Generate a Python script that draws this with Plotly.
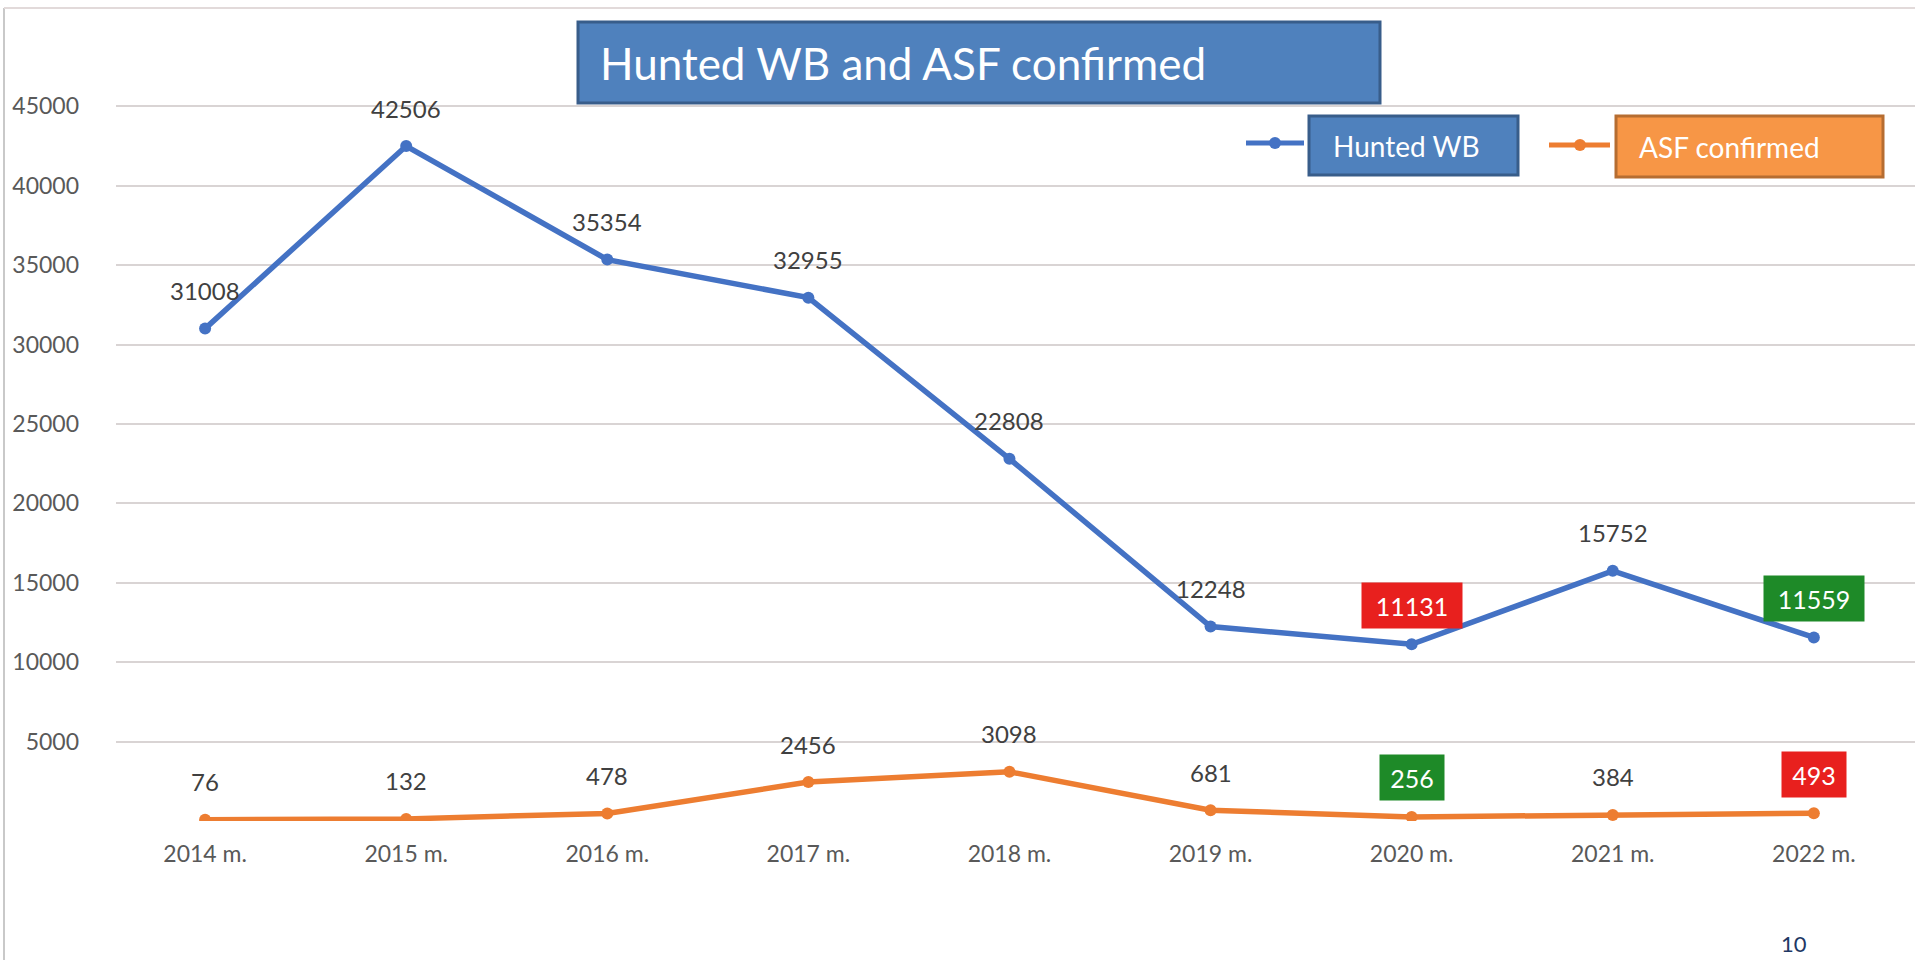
import plotly.graph_objects as go

categories = ["2014 m.", "2015 m.", "2016 m.", "2017 m.", "2018 m.", "2019 m.", "2020 m.", "2021 m.", "2022 m."]
hunted_wb = [31008, 42506, 35354, 32955, 22808, 12248, 11131, 15752, 11559]
asf_confirmed = [76, 132, 478, 2456, 3098, 681, 256, 384, 493]
hunted_highlight = {"2020 m.": "#E8201E", "2022 m.": "#1E8A28"}
asf_highlight = {"2020 m.": "#1E8A28", "2022 m.": "#E8201E"}
y_ticks = [0, 5000, 10000, 15000, 20000, 25000, 30000, 35000, 40000, 45000]

BLUE = "#4472C4"
ORANGE = "#ED7D31"
FONT = "Lato"

W, H = 1915, 960
L, R, T = 116, 0, 27
B = H - 821
PW, PH = W - L - R, H - T - B


def px(X):
    return (X - L) / PW


def py(Y):
    return (H - B - Y) / PH


fig = go.Figure()
fig.add_trace(go.Scatter(x=categories, y=hunted_wb, mode="lines+markers", name="Hunted WB",
                         line=dict(color=BLUE, width=5.5), marker=dict(size=12, color=BLUE),
                         showlegend=False))
fig.add_trace(go.Scatter(x=categories, y=asf_confirmed, mode="lines+markers", name="ASF confirmed",
                         line=dict(color=ORANGE, width=5.5), marker=dict(size=12, color=ORANGE),
                         showlegend=False))

annotations = []
for series, hl in ((hunted_wb, hunted_highlight), (asf_confirmed, asf_highlight)):
    for c, v in zip(categories, series):
        t = str(v)
        if c in hl:
            annotations.append(dict(x=c, y=v, xref="x", yref="y", text=t, showarrow=False,
                                    yshift=39, bgcolor=hl[c], borderpad=0,
                                    width=18 * len(t) + 10, height=45,
                                    font=dict(family=FONT, size=25, color="white")))
        else:
            annotations.append(dict(x=c, y=v, xref="x", yref="y", text=t, showarrow=False,
                                    yshift=38, font=dict(family=FONT, size=24, color="#404040")))

# title text
annotations.append(dict(x=px(598), y=py(63), xref="paper", yref="paper", xanchor="left", yanchor="middle",
                        text="Hunted WB and ASF confirmed", showarrow=False,
                        font=dict(family=FONT, size=44, color="white")))
# legend texts
annotations.append(dict(x=px(1331), y=py(146), xref="paper", yref="paper", xanchor="left", yanchor="middle",
                        text="Hunted WB", showarrow=False, font=dict(family=FONT, size=28, color="white")))
annotations.append(dict(x=px(1637), y=py(147), xref="paper", yref="paper", xanchor="left", yanchor="middle",
                        text="ASF confirmed", showarrow=False, font=dict(family=FONT, size=28, color="white")))
# page number at bottom
annotations.append(dict(x=px(1794), y=py(959), xref="paper", yref="paper", xanchor="center", yanchor="bottom",
                        text="10", showarrow=False, font=dict(family=FONT, size=22, color="#1F3864")))

shapes = [
    # title box
    dict(type="rect", xref="paper", yref="paper", x0=px(578), x1=px(1380), y0=py(103), y1=py(22),
         fillcolor="#4F81BD", line=dict(color="#385D8A", width=3), layer="above"),
    # legend boxes
    dict(type="rect", xref="paper", yref="paper", x0=px(1309), x1=px(1518), y0=py(175), y1=py(116),
         fillcolor="#4F81BD", line=dict(color="#385D8A", width=3), layer="above"),
    dict(type="rect", xref="paper", yref="paper", x0=px(1616), x1=px(1883), y0=py(177), y1=py(116),
         fillcolor="#F79646", line=dict(color="#B66D31", width=3), layer="above"),
    # legend line icons
    dict(type="line", xref="paper", yref="paper", x0=px(1246), x1=px(1304), y0=py(143), y1=py(143),
         line=dict(color=BLUE, width=5)),
    dict(type="circle", xref="paper", yref="paper", x0=px(1269), x1=px(1281), y0=py(149), y1=py(137),
         fillcolor=BLUE, line=dict(color=BLUE, width=0)),
    dict(type="line", xref="paper", yref="paper", x0=px(1549), x1=px(1610), y0=py(145), y1=py(145),
         line=dict(color=ORANGE, width=5)),
    dict(type="circle", xref="paper", yref="paper", x0=px(1574), x1=px(1586), y0=py(151), y1=py(139),
         fillcolor=ORANGE, line=dict(color=ORANGE, width=0)),
    # slide borders
    dict(type="line", xref="paper", yref="paper", x0=px(4), x1=px(4), y0=py(960), y1=py(8),
         line=dict(color="#C9C9C9", width=2)),
    dict(type="line", xref="paper", yref="paper", x0=px(4), x1=px(1915), y0=py(8), y1=py(8),
         line=dict(color="#E2DADA", width=2)),
]

fig.update_layout(
    width=W, height=H,
    margin=dict(l=L, r=R, t=T, b=B, pad=0),
    paper_bgcolor="white", plot_bgcolor="white",
    font=dict(family=FONT),
    hovermode=False,
    xaxis=dict(type="category", categoryorder="array", categoryarray=categories,
               range=[-0.443, 8.503], showgrid=False, zeroline=False, showline=False,
               ticks="", ticklabelstandoff=17,
               tickfont=dict(family=FONT, size=23, color="#595959")),
    yaxis=dict(range=[0, 50000], tickvals=y_ticks,
               ticktext=["" if v == 0 else str(v) for v in y_ticks],
               showgrid=True, gridcolor="#D9D4D4", gridwidth=1.5, zeroline=False, showline=False,
               ticks="", ticklabelstandoff=36,
               tickfont=dict(family=FONT, size=23, color="#595959")),
    annotations=annotations,
    shapes=shapes,
)

fig.write_html("out.html",
               config={"displayModeBar": False},
               post_script="document.body.style.margin='0';document.body.style.overflow='hidden';")
